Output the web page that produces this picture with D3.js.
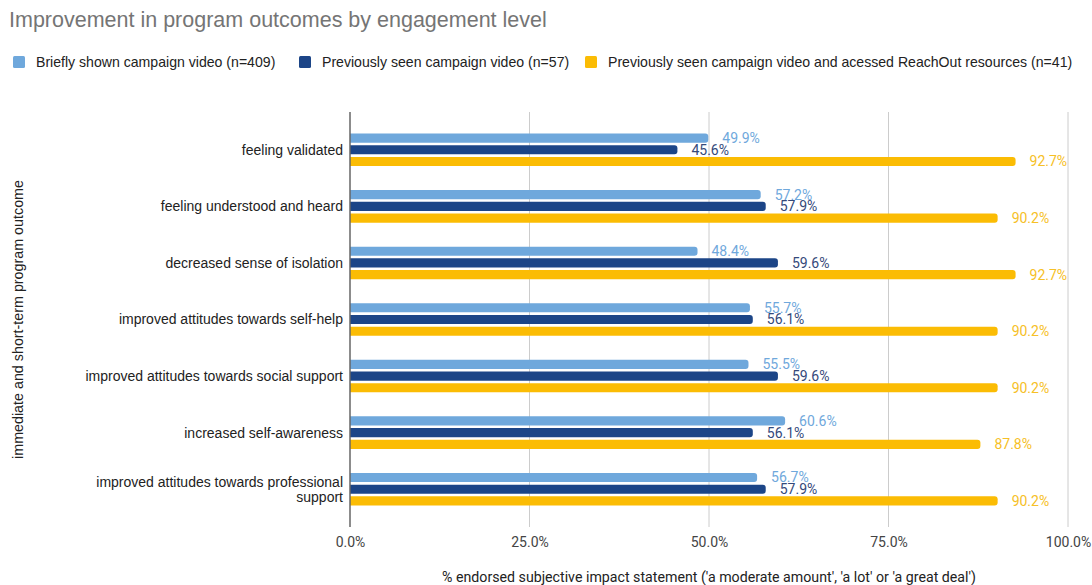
<!DOCTYPE html>
<html>
<head>
<meta charset="utf-8">
<script src="https://cdn.jsdelivr.net/npm/d3@7"></script>
<style>
  html, body { margin: 0; padding: 0; background: #fff; }
  svg { display: block; }
</style>
</head>
<body>
<svg id="chart" width="1092" height="585"></svg>
<script>
// Outcome categories (top to bottom); "\n" marks a manual line break
const categories = [
  "feeling validated",
  "feeling understood and heard",
  "decreased sense of isolation",
  "improved attitudes towards self-help",
  "improved attitudes towards social support",
  "increased self-awareness",
  "improved attitudes towards professional\nsupport"
];

// Series names as shown in the legend
const seriesNames = [
  "Briefly shown campaign video (n=409)",
  "Previously seen campaign video (n=57)",
  "Previously seen campaign video and acessed ReachOut resources (n=41)"
];

// Percent endorsing each outcome, per series
const brieflyShown = [49.9, 57.2, 48.4, 55.7, 55.5, 60.6, 56.7];
const previouslySeen = [45.6, 57.9, 59.6, 56.1, 59.6, 56.1, 57.9];
const seenAndResources = [92.7, 90.2, 92.7, 90.2, 90.2, 87.8, 90.2];

const xTicks = [0, 25, 50, 75, 100];

const colors = ["#6fa8dc", "#1c4587", "#fbbc04"];
const labelColors = ["#6fa8dc", "#34497a", "#f6c026"];

const seriesValues = [brieflyShown, previouslySeen, seenAndResources];
const rows = categories.map((c, i) => ({
  category: c,
  values: seriesValues.map((arr, s) => ({ s, value: arr[i] }))
}));

const svg = d3.select("#chart");

const plot = { left: 350, right: 1068, top: 112, bottom: 527 };

const x = d3.scaleLinear().domain([0, 100]).range([plot.left, plot.right]);
const y = d3.scaleBand()
  .domain(categories)
  .range([plot.top, plot.bottom])
  .paddingInner(0.4)
  .paddingOuter(0.368);
const ySub = d3.scaleBand()
  .domain([0, 1, 2])
  .range([0, y.bandwidth()])
  .paddingInner(0.22)
  .paddingOuter(0.06);

// Title
svg.append("text")
  .attr("x", 9).attr("y", 27)
  .attr("font-family", "Arial, 'Liberation Sans', sans-serif")
  .attr("font-size", 21.5)
  .attr("fill", "#757575")
  .text("Improvement in program outcomes by engagement level");

// Legend
const legendX = [13, 299, 585];
const legend = svg.append("g");
seriesNames.forEach((name, i) => {
  const g = legend.append("g").attr("transform", `translate(${legendX[i]},56)`);
  g.append("rect").attr("width", 12).attr("height", 12).attr("rx", 1.5)
    .attr("fill", colors[i]);
  g.append("text").attr("x", 23).attr("y", 11)
    .attr("font-family", "Arial, 'Liberation Sans', sans-serif")
    .attr("font-size", 14.1)
    .attr("fill", "#222")
    .text(name);
});

// Vertical gridlines
svg.append("g").selectAll("line")
  .data(xTicks.filter(d => d > 0))
  .join("line")
  .attr("x1", d => x(d)).attr("x2", d => x(d))
  .attr("y1", plot.top).attr("y2", plot.bottom)
  .attr("stroke", "#cccccc").attr("stroke-width", 1);

// X tick labels
const xAxis = d3.axisBottom(x)
  .tickValues(xTicks)
  .tickFormat(d => d.toFixed(1) + "%")
  .tickSize(0)
  .tickPadding(10);
const xg = svg.append("g")
  .attr("transform", `translate(0,${plot.bottom})`)
  .call(xAxis);
xg.select(".domain").remove();
xg.selectAll("text")
  .attr("font-family", "Roboto, sans-serif")
  .attr("font-size", 14)
  .attr("fill", "#444");

// Bars with rounded right ends
function barPath(x0, x1, y0, h, r) {
  const rr = Math.min(r, (x1 - x0) / 2, h / 2);
  return `M${x0},${y0}H${x1 - rr}Q${x1},${y0} ${x1},${y0 + rr}` +
         `V${y0 + h - rr}Q${x1},${y0 + h} ${x1 - rr},${y0 + h}H${x0}Z`;
}

const groups = svg.append("g").selectAll("g")
  .data(rows)
  .join("g")
  .attr("transform", d => `translate(0,${y(d.category)})`);

groups.selectAll("path")
  .data(d => d.values)
  .join("path")
  .attr("d", d => barPath(x(0), x(d.value), ySub(d.s), ySub.bandwidth(), 3))
  .attr("fill", d => colors[d.s]);

groups.selectAll("text.val")
  .data(d => d.values)
  .join("text")
  .attr("class", "val")
  .attr("x", d => x(d.value) + 14)
  .attr("y", d => ySub(d.s) + ySub.bandwidth() / 2)
  .attr("dy", "0.35em")
  .attr("font-family", "Roboto, sans-serif")
  .attr("font-size", 14)
  .attr("fill", d => labelColors[d.s])
  .text(d => d.value.toFixed(1) + "%");

// Category labels
const yAxis = d3.axisLeft(y).tickSize(0).tickPadding(7).tickFormat(() => "");
const yg = svg.append("g").attr("transform", `translate(${plot.left},0)`).call(yAxis);
yg.select(".domain").remove();
yg.selectAll(".tick").each(function(d) {
  const lines = d.split("\n");
  const t = d3.select(this).select("text")
    .attr("font-family", "Arial, 'Liberation Sans', sans-serif")
    .attr("font-size", 14)
    .attr("fill", "#222")
    .attr("x", -7)
    .attr("dy", null)
    .attr("text-anchor", "end");
  const lh = 15;
  lines.forEach((ln, i) => {
    t.append("tspan")
      .attr("x", -7)
      .attr("y", (i - (lines.length - 1) / 2) * lh)
      .attr("dy", "0.35em")
      .text(ln);
  });
});

// Baseline axis at 0%
svg.append("line")
  .attr("x1", x(0)).attr("x2", x(0))
  .attr("y1", plot.top).attr("y2", plot.bottom)
  .attr("stroke", "#666").attr("stroke-width", 1.5);

// Axis titles
svg.append("text")
  .attr("x", (plot.left + plot.right) / 2).attr("y", 582)
  .attr("text-anchor", "middle")
  .attr("font-family", "Roboto, sans-serif")
  .attr("font-size", 14.2)
  .attr("fill", "#222")
  .text("% endorsed subjective impact statement ('a moderate amount', 'a lot' or 'a great deal')");

svg.append("text")
  .attr("transform", `translate(23,${(plot.top + plot.bottom) / 2}) rotate(-90)`)
  .attr("text-anchor", "middle")
  .attr("font-family", "Arial, 'Liberation Sans', sans-serif")
  .attr("font-size", 14.3)
  .attr("fill", "#222")
  .text("immediate and short-term program outcome");
</script>
</body>
</html>
